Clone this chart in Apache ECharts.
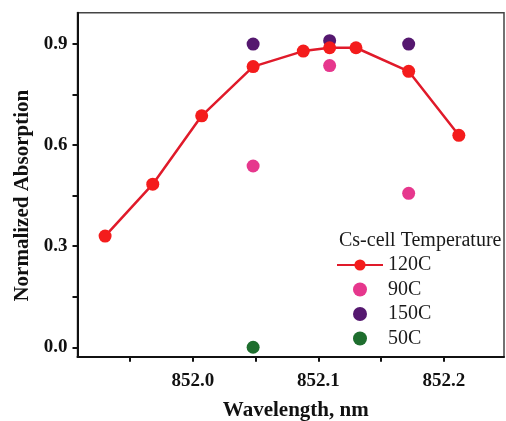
<!DOCTYPE html>
<html>
<head>
<meta charset="utf-8">
<script src="https://cdn.jsdelivr.net/npm/echarts@6/dist/echarts.min.js"></script>
<style>
html,body{margin:0;padding:0;background:#fff;}
#chart{width:506px;height:421px;}
</style>
</head>
<body>
<div id="chart"></div>
<script>
// Data
const seriesNames = ['120C', '90C', '150C', '50C'];
const wl120 = [851.930, 851.968, 852.007, 852.048, 852.088, 852.109, 852.130, 852.172, 852.212];
const abs120 = [0.330, 0.484, 0.687, 0.833, 0.879, 0.889, 0.889, 0.819, 0.629];
const wl90 = [852.048, 852.109, 852.172];
const abs90 = [0.538, 0.836, 0.457];
const wl150 = [852.048, 852.109, 852.172];
const abs150 = [0.900, 0.910, 0.900];
const wl50 = [852.048];
const abs50 = [0.000];
const xTickValues = [851.95, 852.0, 852.05, 852.1, 852.15, 852.2];
const xLabelValues = [852.0, 852.1, 852.2];
const yTickValues = [0, 0.15, 0.3, 0.45, 0.6, 0.75, 0.9];
const yLabelValues = [0, 0.3, 0.6, 0.9];

const pairs = (xs, ys) => xs.map((x, i) => [x, ys[i]]);
const serif = "'Liberation Serif', 'Times New Roman', serif";

const chart = echarts.init(document.getElementById('chart'), null, {renderer: 'canvas'});
chart.setOption({
  backgroundColor: '#ffffff',
  animation: false,
  title: {
    text: 'Cs-cell Temperature',
    left: 339, top: 231, padding: 0,
    textStyle: {fontFamily: serif, fontSize: 20, fontWeight: 'normal', color: '#1a1a1a'}
  },
  legend: {
    orient: 'vertical',
    left: 336, top: 255, padding: 0,
    itemWidth: 46, itemHeight: 14, itemGap: 4.5,
    data: seriesNames,
    textStyle: {fontFamily: serif, fontSize: 20, color: '#1a1a1a', lineHeight: 20}
  },
  grid: {
    left: 77.5, right: 2, top: 12.7, bottom: 64.3,
    outerBoundsMode: 'none', containLabel: false,
    show: true, borderColor: '#444', borderWidth: 1.5, backgroundColor: 'transparent'
  },
  xAxis: {
    type: 'value',
    min: 851.908, max: 852.248,
    name: 'Wavelength, nm',
    nameLocation: 'middle', nameGap: 43,
    nameTextStyle: {fontFamily: serif, fontSize: 21, fontWeight: 'bold', color: '#111', padding: [0, 0, 0, 10]},
    axisLine: {show: true, onZero: false, lineStyle: {color: '#111', width: 2}},
    axisTick: {show: true, inside: false, length: 5, lineStyle: {color: '#111', width: 2}, customValues: xTickValues},
    axisLabel: {
      customValues: xLabelValues, margin: 15,
      fontFamily: serif, fontSize: 19, fontWeight: 'bold', color: '#111',
      formatter: v => v.toFixed(1)
    },
    splitLine: {show: false}
  },
  yAxis: {
    type: 'value',
    min: -0.028, max: 0.993,
    name: 'Normalized Absorption',
    nameLocation: 'middle', nameGap: 44,
    nameTextStyle: {fontFamily: serif, fontSize: 21, fontWeight: 'bold', color: '#111', padding: [0, 22, 0, 0]},
    axisLine: {show: true, onZero: false, lineStyle: {color: '#111', width: 2}},
    axisTick: {show: true, inside: false, length: 5, lineStyle: {color: '#111', width: 2}, customValues: yTickValues},
    axisLabel: {
      customValues: yLabelValues, margin: 10,
      fontFamily: serif, fontSize: 19, fontWeight: 'bold', color: '#111',
      formatter: v => v.toFixed(1)
    },
    splitLine: {show: false}
  },
  series: [
    {
      name: seriesNames[0], type: 'line', data: pairs(wl120, abs120),
      symbol: 'circle', symbolSize: 13,
      itemStyle: {color: '#f41c1c', opacity: 1},
      lineStyle: {color: '#e01a2a', width: 2.5}
    },
    {
      name: seriesNames[1], type: 'scatter', data: pairs(wl90, abs90),
      symbol: 'circle', symbolSize: 13, itemStyle: {color: '#e6378d', opacity: 1}
    },
    {
      name: seriesNames[2], type: 'scatter', data: pairs(wl150, abs150),
      symbol: 'circle', symbolSize: 13, itemStyle: {color: '#55186f', opacity: 1}
    },
    {
      name: seriesNames[3], type: 'scatter', data: pairs(wl50, abs50),
      symbol: 'circle', symbolSize: 13, itemStyle: {color: '#1e6e2e', opacity: 1}
    }
  ]
});
</script>
</body>
</html>
